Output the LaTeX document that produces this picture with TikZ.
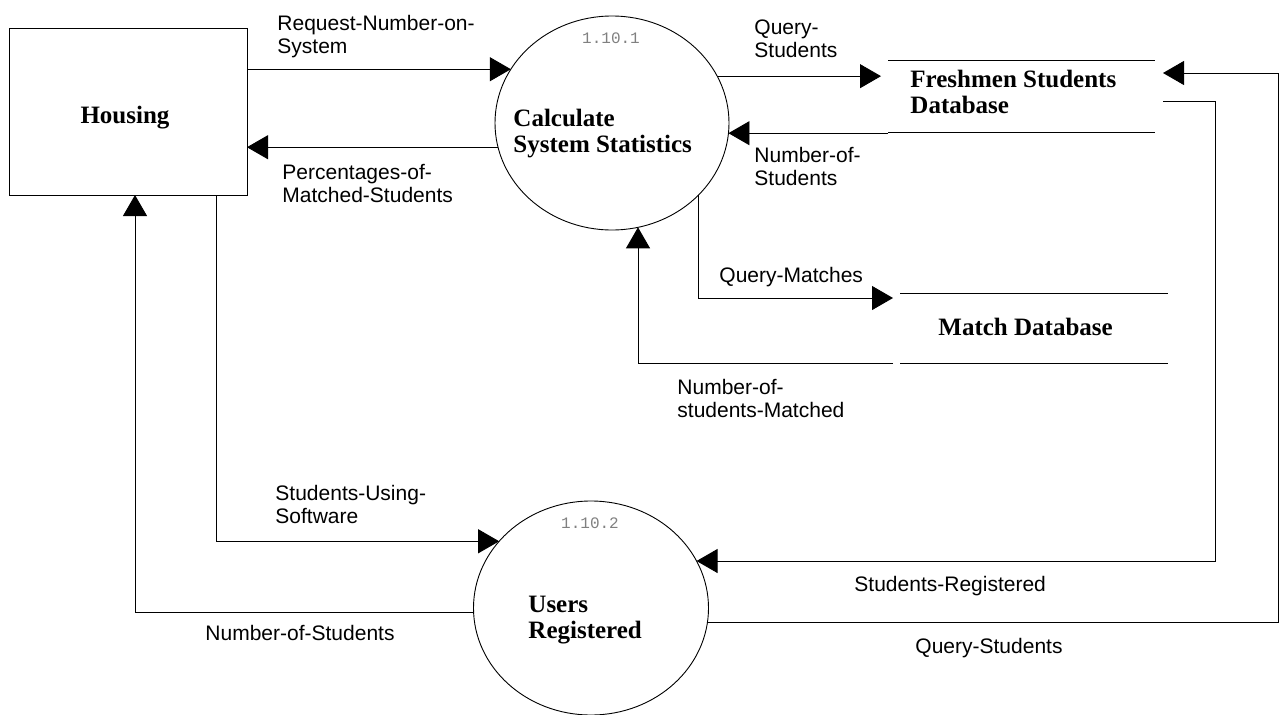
\documentclass[tikz,border=0pt]{standalone}
\usepackage{fontspec}
\setmainfont{Liberation Serif}
\setsansfont{Liberation Sans}
\setmonofont{Liberation Mono}
\usetikzlibrary{arrows.meta, shapes.geometric}

\begin{document}
\begin{tikzpicture}[x=1pt,y=-1pt,line width=0.9pt,
  flow/.style={-{Triangle[length=21pt,width=24pt]}},
  proc/.style={draw,ellipse,inner sep=0pt,outer sep=0pt,minimum height=214pt},
  store/.style={inner sep=0pt,outer sep=0pt},
  lbl/.style={anchor=base west,inner sep=0pt,align=left,font=\sffamily\fontsize{21}{23}\selectfont},
  ttl/.style={anchor=base west,inner sep=0pt,align=left,font=\bfseries\fontsize{25}{25.5}\selectfont},
  num/.style={anchor=base,inner sep=0pt,text=gray,font=\ttfamily\fontsize{16}{16}\selectfont}]
  \useasboundingbox (0,0) rectangle (1283,715);
  \node[draw,inner sep=0pt,outer sep=0pt,minimum width=238pt,minimum height=167pt] (house) at (128,111.5) {};
  \node[proc,minimum width=234pt] (calc) at (612,123) {};
  \node[proc,minimum width=235pt] (users) at (591,608) {};
  \node[store,minimum width=267pt,minimum height=72pt] (fsdb) at (1021.5,96) {};
  \node[store,minimum width=268pt,minimum height=70pt] (mdb) at (1034,328) {};
  \draw (fsdb.north west) -- (fsdb.north east) (fsdb.south west) -- (fsdb.south east);
  \draw (mdb.north west) -- (mdb.north east) (mdb.south west) -- (mdb.south east);

  \node[ttl,anchor=base] (houselbl) at (125,123) {Housing};
  \node[ttl] (calclbl) at (513,152) {Calculate\\System Statistics};
  \node[ttl] (fslbl) at (910,113) {Freshmen Students\\Database};
  \node[ttl] (mlbl) at (938,335) {Match Database};
  \node[ttl] (uslbl) at (528,638) {Users\\Registered};
  \node[num] (calcnum) at (611,43) {1.10.1};
  \node[num] (usnum) at (590,528) {1.10.2};

  \draw[flow] (calc.152.4 -| house.east) -- (calc.152.4);
  \draw[flow] (calc.192.4) -- (calc.192.4 -| house.east);
  \draw[flow,shorten >=7pt] (calc.24.6) -- (calc.24.6 -| fsdb.west);
  \draw[flow] (calc.355.6 -| fsdb.west) -- (calc.355.6);
  \draw[flow,shorten >=7pt] (calc.320.5) |- ([yshift=30pt]mdb.west);
  \draw[flow] ([xshift=-7pt]mdb.south west) -| (calc.284.5);
  \draw[flow] ([xshift=207pt]house.south west) |- (users.144.5);
  \draw[flow] (users.182) -| ([xshift=126pt]house.south west);
  \draw[flow] ([xshift=8pt,yshift=-5pt]fsdb.east) -- ++(52,0) |- (users.24);
  \draw[flow] (users.353.1) -- ++(571,0) |- ([xshift=8pt,yshift=23pt]fsdb.east);

  \node[lbl] (reqlbl) at (277,53) {Request-Number-on-\\System};
  \node[lbl] (pctlbl) at (282,202) {Percentages-of-\\Matched-Students};
  \node[lbl] (qslbl) at (754,57) {Query-\\Students};
  \node[lbl] (nslbl) at (754,185) {Number-of-\\Students};
  \node[lbl] (qmlbl) at (719,282) {Query-Matches};
  \node[lbl] (nmlbl) at (677,417) {Number-of-\\students-Matched};
  \node[lbl] (sulbl) at (275,523) {Students-Using-\\Software};
  \node[lbl] (nulbl) at (205,640) {Number-of-Students};
  \node[lbl] (srlbl) at (854,591) {Students-Registered};
  \node[lbl] (qulbl) at (915,653) {Query-Students};
\end{tikzpicture}
\end{document}
